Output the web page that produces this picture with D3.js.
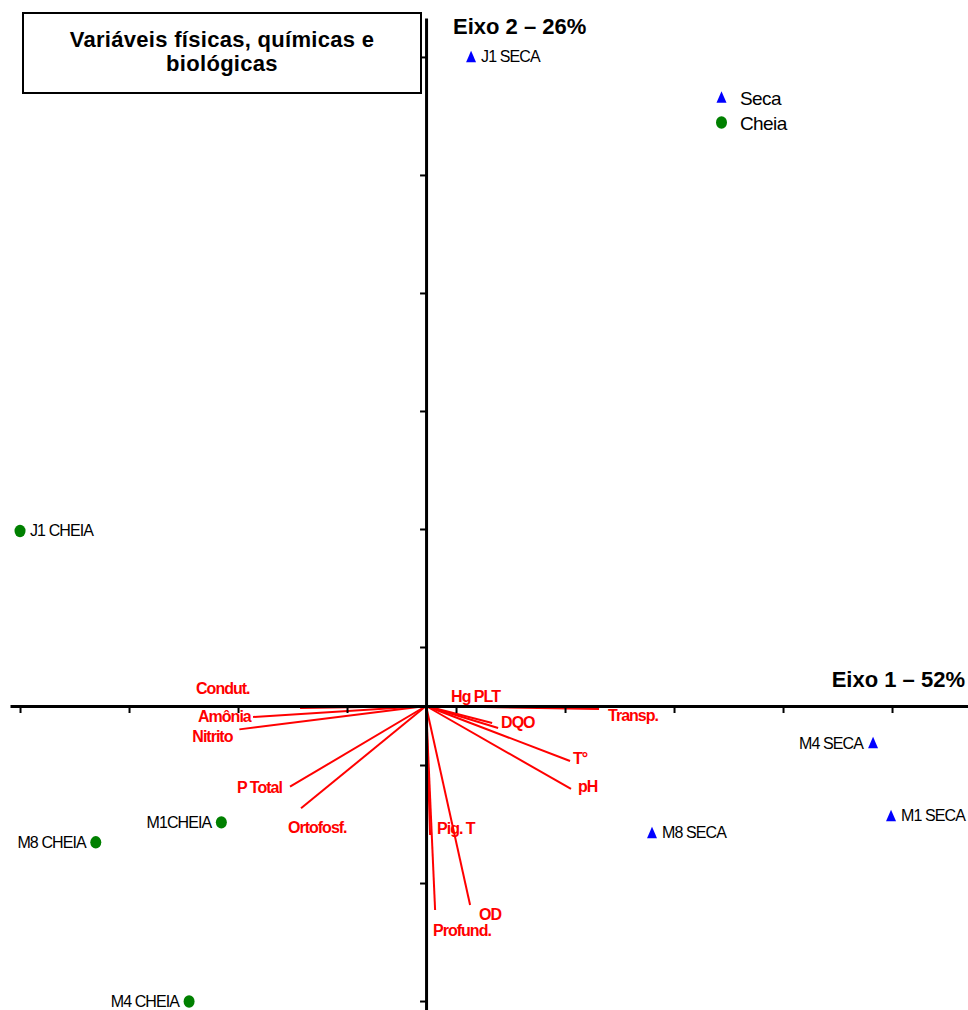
<!DOCTYPE html>
<html>
<head>
<meta charset="utf-8">
<script src="https://cdn.jsdelivr.net/npm/d3@7/dist/d3.min.js"></script>
<style>
  html, body { margin: 0; padding: 0; background: #fff; }
  svg { display: block; }
</style>
</head>
<body>
<svg id="chart" width="968" height="1010"></svg>
<script>
// ---------------- DATA ----------------
const sampleNames   = ["J1 SECA", "J1 CHEIA", "M4 SECA", "M1 SECA", "M8 SECA", "M1CHEIA", "M8 CHEIA", "M4 CHEIA"];
const sampleSeason  = ["Seca", "Cheia", "Seca", "Seca", "Seca", "Cheia", "Cheia", "Cheia"];
const sampleAxis1   = [0.413, -3.725, 4.101, 4.266, 2.073, -1.878, -3.030, -2.174];
const sampleAxis2   = [5.500, 1.483, -0.314, -0.932, -1.076, -0.986, -1.155, -2.504];

const variableNames = ["Condut.", "Amônia", "Nitrito", "P Total", "Ortofosf.", "Hg PLT", "DQO", "Transp.", "T°", "pH", "Pig. T", "OD", "Profund."];
const variableAxis1 = [-1.156, -1.587, -1.713, -1.248, -1.147, 0.606, 0.661, 1.587, 1.321, 1.330, 0.037, 0.404, 0.083];
const variableAxis2 = [-0.017, -0.093, -0.198, -0.684, -0.867, -0.144, -0.186, -0.025, -0.466, -0.703, -1.093, -1.686, -1.729];

const seasons   = ["Seca", "Cheia"];
const xTicks    = [-3.725, -2.725, -1.725, -0.725, 0.275, 1.275, 2.275, 3.275, 4.275];
const yTicks    = [-2.5, -1.5, -0.5, 0.5, 1.5, 2.5, 3.5, 4.5, 5.5];
const xExtent   = [-3.817, 4.972];
const yExtent   = [-2.576, 5.83];

const titleLines = ["Variáveis físicas, químicas e", "biológicas"];
const axis1Title = "Eixo 1 – 52%";
const axis2Title = "Eixo 2 – 26%";

// ---------------- LAYOUT (label placement, px) ----------------
const sampleLabelSide = {
  "J1 SECA": "right", "J1 CHEIA": "right", "M4 SECA": "left", "M1 SECA": "right",
  "M8 SECA": "right", "M1CHEIA": "left", "M8 CHEIA": "left", "M4 CHEIA": "left"
};
const variableLabelOffset = {
  "Condut.": [-104, -14], "Amônia": [-55, 5], "Nitrito": [-47, 13], "P Total": [-53, 6],
  "Ortofosf.": [-13, 25], "Hg PLT": [-41, -21], "DQO": [3, 0], "Transp.": [9, 12],
  "T°": [3, 3], "pH": [7, 3], "Pig. T": [7, -1], "OD": [9, 15], "Profund.": [-2, 26]
};
const seasonColor = { "Seca": "#0000ff", "Cheia": "#008000" };

// ---------------- DRAW ----------------
const svg = d3.select("#chart");
const FONT = "'Liberation Sans', Arial, Helvetica, sans-serif";

const x = d3.scaleLinear().domain(xExtent).range([10, 968]);
const y = d3.scaleLinear().domain(yExtent).range([1010, 18]);

function triPath() {
  const p = d3.path();
  p.moveTo(0, -6.3); p.lineTo(5, 5.3); p.lineTo(-5, 5.3); p.closePath();
  return p.toString();
}
function drawMarker(g, season, cx, cy) {
  if (season === "Seca") {
    g.append("path").attr("d", triPath()).attr("transform", `translate(${cx},${cy})`)
      .attr("fill", seasonColor.Seca);
  } else {
    g.append("ellipse").attr("cx", cx).attr("cy", cy).attr("rx", 5.5).attr("ry", 6.2)
      .attr("fill", seasonColor.Cheia);
  }
}

// title box
const tb = svg.append("g");
tb.append("rect").attr("x", 23).attr("y", 13).attr("width", 398).attr("height", 80)
  .attr("fill", "#fff").attr("stroke", "#000").attr("stroke-width", 2);
tb.selectAll("text").data(titleLines).join("text")
  .attr("x", 222).attr("y", (d, i) => 47 + i * 24)
  .attr("text-anchor", "middle").attr("font-family", FONT).attr("font-weight", "bold")
  .attr("font-size", 22).attr("letter-spacing", "0.3px").attr("fill", "#000").text(d => d);

// vectors
const vec = svg.append("g");
variableNames.forEach((name, i) => {
  const ex = x(variableAxis1[i]), ey = y(variableAxis2[i]);
  vec.append("line").attr("x1", x(0)).attr("y1", y(0)).attr("x2", ex).attr("y2", ey)
    .attr("stroke", "#ff0000").attr("stroke-width", 2);
});

// axes
const xAxis = d3.axisBottom(x).tickValues(xTicks).tickFormat("").tickSize(7).tickSizeOuter(0);
const yAxis = d3.axisLeft(y).tickValues(yTicks).tickFormat("").tickSize(6).tickSizeOuter(0);
const gx = svg.append("g").attr("transform", `translate(0,${y(0)})`).call(xAxis);
const gy = svg.append("g").attr("transform", `translate(${x(0)},0)`).call(yAxis);
[gx, gy].forEach(g => {
  g.select(".domain").attr("stroke", "#000").attr("stroke-width", 3);
  g.selectAll(".tick line").attr("stroke", "#000").attr("stroke-width", 2);
});

// vector labels
const vl = svg.append("g");
variableNames.forEach((name, i) => {
  const ex = x(variableAxis1[i]), ey = y(variableAxis2[i]);
  const off = variableLabelOffset[name];
  vl.append("text").attr("x", ex + off[0]).attr("y", ey + off[1])
    .attr("font-family", FONT).attr("font-weight", "bold").attr("font-size", 16)
    .attr("letter-spacing", "-1px").attr("fill", "#ff0000").text(name);
});

// samples
const pts = svg.append("g");
sampleNames.forEach((name, i) => {
  const cx = x(sampleAxis1[i]), cy = y(sampleAxis2[i]);
  drawMarker(pts, sampleSeason[i], cx, cy);
  const right = sampleLabelSide[name] === "right";
  pts.append("text").attr("x", right ? cx + 10 : cx - 10).attr("y", cy + 5.5)
    .attr("text-anchor", right ? "start" : "end")
    .attr("font-family", FONT).attr("font-size", 16).attr("letter-spacing", "-0.9px")
    .attr("fill", "#000").text(name);
});

// legend
const lg = svg.append("g");
seasons.forEach((s, i) => {
  const cy = 97.5 + i * 25;
  drawMarker(lg, s, 721.5, cy);
  lg.append("text").attr("x", 740).attr("y", cy + 7).attr("font-family", FONT)
    .attr("font-size", 19).attr("letter-spacing", "-0.6px").attr("fill", "#000").text(s);
});

// axis titles
svg.append("text").attr("x", 453).attr("y", 34).attr("font-family", FONT)
  .attr("font-weight", "bold").attr("font-size", 22).attr("fill", "#000").text(axis2Title);
svg.append("text").attr("x", 965).attr("y", 687).attr("text-anchor", "end").attr("font-family", FONT)
  .attr("font-weight", "bold").attr("font-size", 22).attr("fill", "#000").text(axis1Title);
</script>
</body>
</html>
